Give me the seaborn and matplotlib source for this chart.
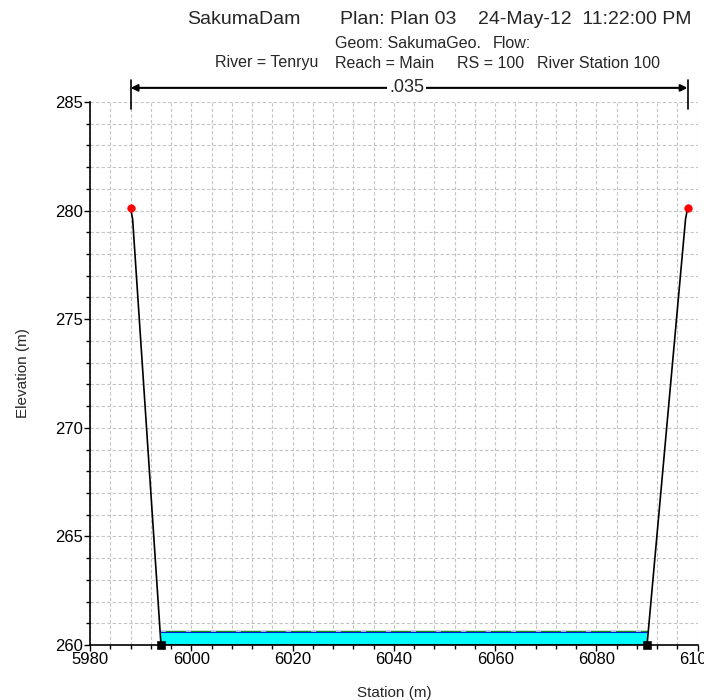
import matplotlib
matplotlib.use("Agg")
import matplotlib.pyplot as plt
import seaborn as sns
import pandas as pd
from matplotlib.ticker import MultipleLocator

# data
station = [5988, 5988.4, 5994, 6090, 6097.6, 6098]
elevation = [280.1, 279.6, 260.0, 260.0, 279.6, 280.1]
bank_station = [5988, 6098]
bank_elev = [280.1, 280.1]
bottom_station = [5994, 6090]
bottom_elev = [260.0, 260.0]
ws_station = [5994, 6090]
ws_elev = [260.58, 260.58]
eg_elev = [260.66, 260.66]
n_value = ".035"
n_range = [5988, 6098]
title_parts = ["SakumaDam", "Plan: Plan 03", "24-May-12  11:22:00 PM"]
geom_parts = ["Geom: SakumaGeo.", "Flow:"]
river_parts = ["River = Tenryu", "Reach = Main", "RS = 100", "River Station 100"]

sns.set_theme(style="white")
plt.rcParams['font.family'] = ['Liberation Sans', 'DejaVu Sans']

W, H = 704, 700
fig = plt.figure(figsize=(7.04, 7.0), dpi=100)
ax = fig.add_axes([0.128, 0.0786, 0.863, 0.7757])

ax.fill_between(ws_station, bottom_elev, ws_elev, color="#00FFFF", zorder=2, linewidth=0)
sns.lineplot(x=ws_station, y=ws_elev, ax=ax, color="#0000FF", linewidth=1.5, zorder=3)
sns.lineplot(x=ws_station, y=eg_elev, ax=ax, color="#1a8a1a", linewidth=1.0, zorder=3)
sns.lineplot(x=ws_station, y=eg_elev, ax=ax, color="#c8c8ff", linewidth=1.2,
             linestyle=(0, (3, 12)), zorder=3)

prof = pd.DataFrame({"Station": station, "Elevation": elevation})
sns.lineplot(data=prof, x="Station", y="Elevation", ax=ax, color="black",
             linewidth=1.2, sort=False, zorder=4)
sns.scatterplot(x=bank_station, y=bank_elev, ax=ax, color="red", marker="o",
                s=30, edgecolor="red", zorder=5, clip_on=False)
sns.scatterplot(x=bottom_station, y=bottom_elev, ax=ax, color="black", marker="s",
                s=30, edgecolor="black", zorder=5, clip_on=False)

ax.set_xlim(5980, 6100)
ax.set_ylim(260, 285)
ax.xaxis.set_major_locator(MultipleLocator(20))
ax.xaxis.set_minor_locator(MultipleLocator(4))
ax.yaxis.set_major_locator(MultipleLocator(5))
ax.yaxis.set_minor_locator(MultipleLocator(1))
ax.grid(True, which="both", color="#c4c4c4", linestyle=(0, (3, 2)), linewidth=0.8)
ax.set_axisbelow(True)
for s in ["top", "right"]:
    ax.spines[s].set_visible(False)
for s in ["left", "bottom"]:
    ax.spines[s].set_color("black")
    ax.spines[s].set_linewidth(1.2)
ax.tick_params(axis="both", which="major", direction="out", length=4, width=1,
               labelsize=12, colors="black", pad=1, left=True, bottom=True)
ax.tick_params(axis="both", which="minor", direction="out", length=3, width=1,
               colors="black", left=True, bottom=True)
ax.set_xlabel("Station (m)", fontsize=11, labelpad=14)
ax.set_ylabel("Elevation (m)", fontsize=11, labelpad=18)

# n-value bracket
for xv in n_range:
    ax.plot([xv, xv], [284.7, 286.0], color="black", linewidth=1.2, clip_on=False)
ax.annotate("", xy=(n_range[0], 285.65), xytext=(n_range[1], 285.65),
            arrowprops=dict(arrowstyle="<|-|>", color="black", lw=1.5,
                            shrinkA=0, shrinkB=0, mutation_scale=10),
            annotation_clip=False)
ax.text(6042.5, 285.65, n_value, ha="center", va="center", fontsize=13,
        bbox=dict(facecolor="white", edgecolor="none", pad=1.5), clip_on=False)

for txt, xp in zip(title_parts, [187, 340, 478]):
    fig.text(xp / W, 1 - 20 / H, txt, ha="left", va="center", fontsize=14)
for txt, xp in zip(geom_parts, [335, 493]):
    fig.text(xp / W, 1 - 43 / H, txt, ha="left", va="center", fontsize=11.5)
for txt, xp in zip(river_parts, [215, 335, 457, 537]):
    fig.text(xp / W, 1 - 63 / H, txt, ha="left", va="center", fontsize=11.5)

fig.savefig("out.png", dpi=100)
